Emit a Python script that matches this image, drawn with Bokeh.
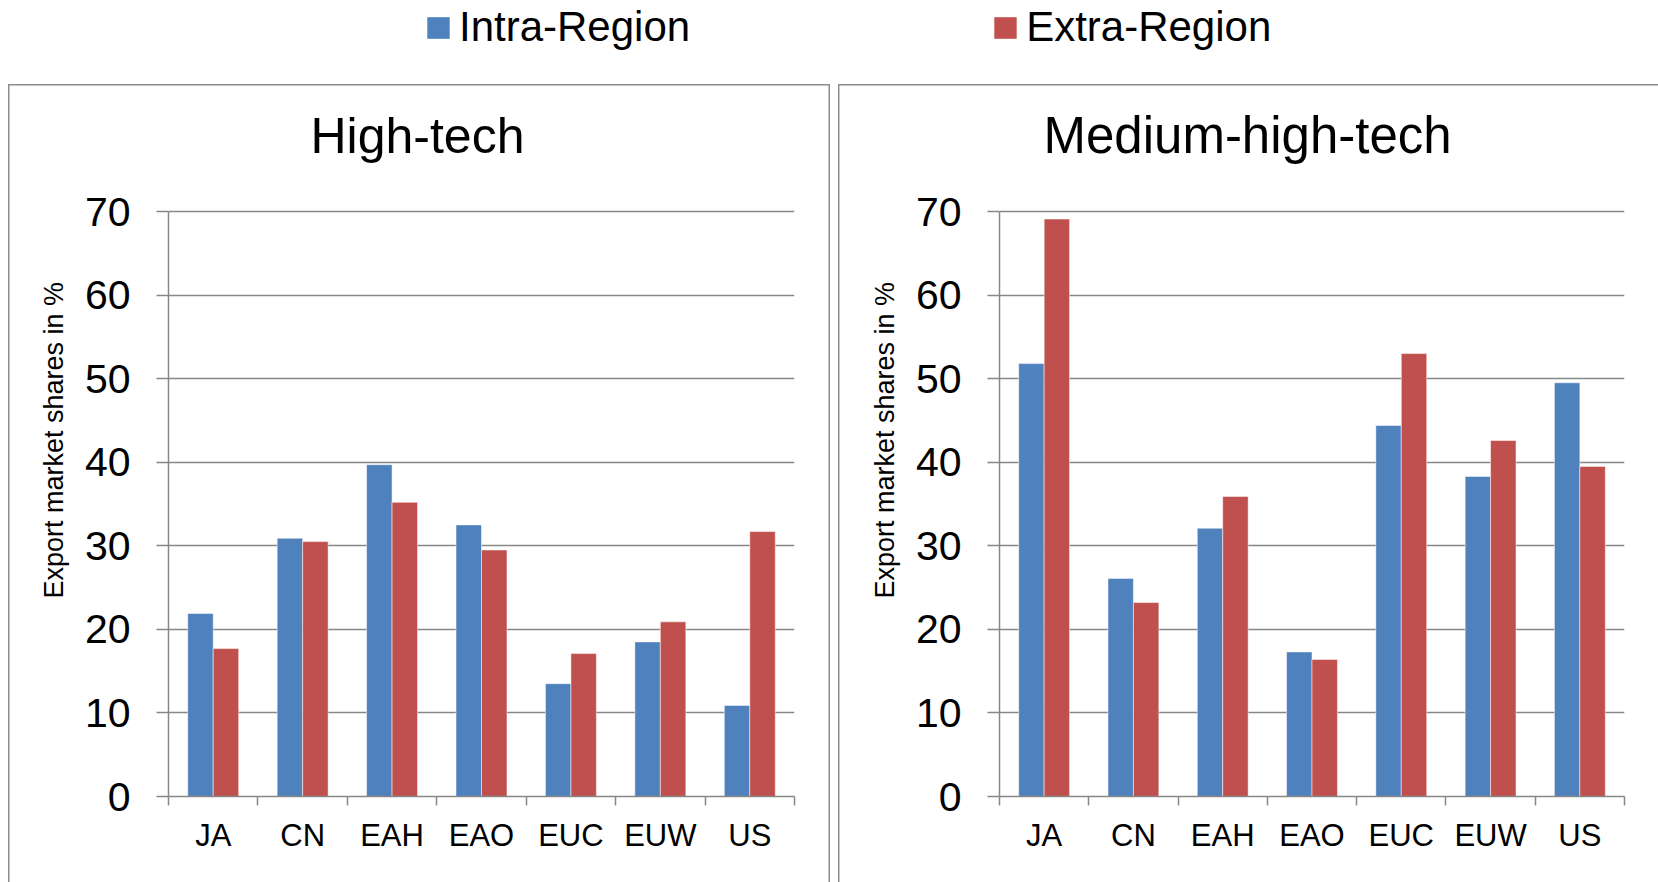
from bokeh.plotting import figure
from bokeh.models import (Range1d, FixedTicker, CustomJSTickFormatter, ColumnDataSource,
                          Legend, LegendItem, Title, Spacer)
from bokeh.transform import dodge
from bokeh.layouts import column, row
from bokeh.embed import file_html
from bokeh.resources import INLINE

# ---- data ----
categories = ["JA", "CN", "EAH", "EAO", "EUC", "EUW", "US"]
high_intra = [21.9, 30.9, 39.7, 32.5, 13.5, 18.5, 10.9]
high_extra = [17.7, 30.5, 35.2, 29.5, 17.1, 20.9, 31.7]
medhigh_intra = [51.8, 26.1, 32.1, 17.3, 44.4, 38.3, 49.5]
medhigh_extra = [69.1, 23.2, 35.9, 16.4, 53.0, 42.6, 39.5]
y_ticks = [0, 10, 20, 30, 40, 50, 60, 70]
series_names = ["Intra-Region", "Extra-Region"]
panel_titles = ["High-tech", "Medium-high-tech"]
y_label = "Export market shares in %"

BLUE = "#4F81BD"
RED = "#C0504D"
GRID = "#878787"
BORDER = "#8c8c8c"
FONT = "Liberation Sans"

# ---- layout constants (pixels) ----
PANEL_H = 798
FRAME_TOP = 84        # top of plot frame (room above the 70 line for the title)
Y_TOP_PX = 127        # where the top tick (70) sits
Y_ZERO_PX = 712       # where 0 sits
BAR_W = 0.285
y_max = y_ticks[-1] * (Y_ZERO_PX - FRAME_TOP) / (Y_ZERO_PX - Y_TOP_PX)


def make_panel(title, intra, extra, width, frame_left, frame_right, title_offset, title_size, shadow):
    n = len(categories)
    src = ColumnDataSource(dict(x=[i + 0.5 for i in range(n)], intra=intra, extra=extra))
    p = figure(width=width, height=PANEL_H, x_range=Range1d(0, n), y_range=Range1d(0, y_max),
               output_backend="svg", toolbar_location=None,
               min_border_left=frame_left, min_border_right=width - frame_right,
               min_border_top=FRAME_TOP, min_border_bottom=PANEL_H - Y_ZERO_PX,
               styles={"box-shadow": shadow})
    p.outline_line_color = None
    p.background_fill_color = None
    p.border_fill_color = None

    p.title.text = title
    p.title.align = "left"
    p.title.offset = title_offset
    p.title.text_font = FONT
    p.title.text_font_size = title_size
    p.title.text_font_style = "normal"
    p.title.text_color = "black"
    p.title.standoff = 10
    p.title.vertical_align = "bottom"

    p.add_layout(Title(text=y_label, align="left", offset=198, text_font=FONT, text_font_size="27px",
                       text_font_style="normal", text_color="black", standoff=25,
                       vertical_align="bottom"), "left")

    p.vbar(x=dodge("x", -BAR_W / 2), top="intra", width=BAR_W, source=src,
           fill_color=BLUE, line_color="white", line_alpha=0.5, line_width=1)
    p.vbar(x=dodge("x", BAR_W / 2), top="extra", width=BAR_W, source=src,
           fill_color=RED, line_color="white", line_alpha=0.5, line_width=1)

    xa = p.xaxis[0]
    xa.ticker = FixedTicker(ticks=[i + 0.5 for i in range(n)], minor_ticks=list(range(n + 1)))
    xa.formatter = CustomJSTickFormatter(args=dict(labels=categories),
                                         code="const i = Math.floor(tick); return (i >= 0 && i < labels.length) ? labels[i] : '';")
    xa.major_tick_out = 0
    xa.major_tick_in = 0
    xa.minor_tick_out = 9
    xa.minor_tick_in = 0
    xa.minor_tick_line_color = GRID
    xa.minor_tick_line_width = 1.5
    xa.axis_line_color = GRID
    xa.axis_line_width = 1.5
    xa.major_label_text_font = FONT
    xa.major_label_text_font_size = "31px"
    xa.major_label_text_color = "black"
    xa.major_label_standoff = 12

    ya = p.yaxis[0]
    ya.ticker = FixedTicker(ticks=y_ticks, minor_ticks=[])
    ya.bounds = (y_ticks[0], y_ticks[-1])
    ya.major_tick_out = 12
    ya.major_tick_in = 0
    ya.major_tick_line_color = GRID
    ya.major_tick_line_width = 1.5
    ya.minor_tick_line_color = None
    ya.axis_line_color = GRID
    ya.axis_line_width = 1.5
    ya.major_label_text_font = FONT
    ya.major_label_text_font_size = "41px"
    ya.major_label_text_color = "black"
    ya.major_label_standoff = 26

    p.xgrid.visible = False
    p.ygrid.grid_line_color = GRID
    p.ygrid.grid_line_width = 1.5
    return p


left = make_panel(panel_titles[0], high_intra, high_extra, 822, 160, 786, 142, "50px",
                  f"inset 1.5px 1.5px 0 0 {BORDER}, inset -1.5px 0 0 0 {BORDER}")
right = make_panel(panel_titles[1], medhigh_intra, medhigh_extra, 820, 161, 786, 44, "51px",
                   f"inset 1.5px 1.5px 0 0 {BORDER}")

# ---- legend strip ----
lf = figure(width=1658, height=84, output_backend="svg", toolbar_location=None,
            x_range=Range1d(0, 1), y_range=Range1d(1, 2),
            x_axis_location=None, y_axis_location=None, min_border=0)
lf.grid.visible = False
lf.outline_line_color = None
# legend proxies: zero-height bars kept outside the visible range of this strip
proxy = ColumnDataSource(dict(x=[0.5], top=[0.0]))
r1 = lf.vbar(x="x", top="top", bottom="top", width=0.01, source=proxy, fill_color=BLUE, line_color=None)
r2 = lf.vbar(x="x", top="top", bottom="top", width=0.01, source=proxy, fill_color=RED, line_color=None)
legend = Legend(items=[LegendItem(label=series_names[0], renderers=[r1]),
                       LegendItem(label=series_names[1], renderers=[r2])],
                location=(424, 33), orientation="horizontal",
                glyph_width=28, glyph_height=27, label_standoff=7, spacing=301,
                padding=0, margin=0, border_line_color=None, background_fill_alpha=0,
                label_text_font=FONT, label_text_font_size="42px", label_text_color="black")
lf.add_layout(legend)

layout = column(lf, row(Spacer(width=8, height=PANEL_H), left, Spacer(width=8, height=PANEL_H), right))
open("out.html", "w").write(file_html(layout, INLINE))
